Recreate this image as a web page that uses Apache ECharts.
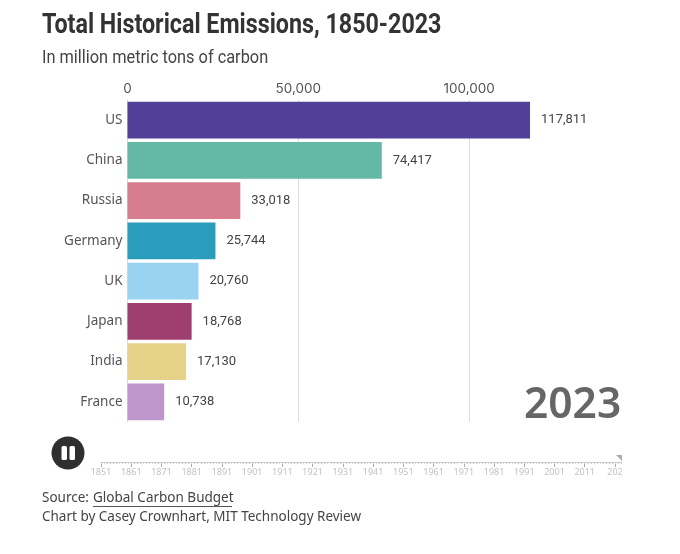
<!DOCTYPE html>
<html><head><meta charset="utf-8">
<style>html,body{margin:0;padding:0;background:#fff}#c{width:680px;height:554px}</style>
<script src="https://cdn.jsdelivr.net/npm/echarts@6/dist/echarts.min.js"></script>
</head><body><div id="c"></div>
<script>
const countries = ["US","China","Russia","Germany","UK","Japan","India","France"];
const emissions = [117811,74417,33018,25744,20760,18768,17130,10738];
const barColors = ["#523F97","#65B8A6","#D67D8E","#2A9DBC","#9AD3F2","#9F3F6F","#E5D288","#BE96CB"];
const years = []; for (let y = 1851; y <= 2023; y++) years.push(String(y));
const currentYear = "2023";
const chartTitle = "Total Historical Emissions, 1850-2023";
const chartSubtitle = "In million metric tons of carbon";
const font = "'Noto Sans'";
const chart = echarts.init(document.getElementById('c'), null, {renderer:'canvas'});
const fmt = v => Number(v).toLocaleString('en-US');
chart.setOption({
  animation:false,
  grid:[
    {left:127.5,top:100,width:410,height:322,containLabel:false},
    {left:101,top:461,width:520,height:1}
  ],
  xAxis:[
    {gridIndex:0,type:'value',position:'top',min:0,max:120000,interval:50000,
     axisLine:{show:false},axisTick:{show:false},
     axisLabel:{show:true,showMaxLabel:false,margin:4,color:'#555',fontFamily:'Inter',fontSize:13.5,formatter:fmt},
     splitLine:{show:true,showMaxLine:false,lineStyle:{color:'#ddd',width:1}}},
    {gridIndex:1,type:'category',data:years,boundaryGap:false,position:'bottom',
     axisLine:{show:true,lineStyle:{color:'#ccc',width:1}},
     axisTick:{show:true,interval:9,length:5,alignWithLabel:true,lineStyle:{color:'#aaa'}},
     axisLabel:{interval:9,margin:6,color:'#c2c2c2',fontFamily:font,fontSize:9,
       formatter:v=>v==='2021'?'202':v},
     splitLine:{show:false}},
    {gridIndex:1,type:'category',data:years,boundaryGap:false,position:'bottom',
     axisLine:{show:false},
     axisTick:{show:true,interval:0,length:2,lineStyle:{color:'#ccc'}},
     axisLabel:{show:false},splitLine:{show:false}}
  ],
  yAxis:[
    {gridIndex:0,type:'category',data:countries,inverse:true,
     axisLine:{show:true,onZero:false,lineStyle:{color:'#ddd'}},axisTick:{show:false},
     axisLabel:{margin:5,color:'#555',fontFamily:font,fontSize:13.5}},
    {gridIndex:1,type:'value',min:0,max:1,show:false}
  ],
  series:[
    {type:'bar',xAxisIndex:0,yAxisIndex:0,barCategoryGap:'9%',
     data:emissions.map((v,i)=>({value:v,itemStyle:{color:barColors[i]}})),
     label:{show:true,position:'right',distance:11,color:'#444',fontFamily:'Roboto',fontSize:13,formatter:p=>fmt(p.value)}},
    {type:'scatter',xAxisIndex:1,yAxisIndex:1,data:[[currentYear,1]],silent:true,
     symbol:'path://M0 0L10 0L10 10Z',symbolSize:[6,6],symbolOffset:[-2,-3],itemStyle:{color:'#999'}}
  ],
  graphic:[
    {type:'text',left:42,top:13,scaleX:0.862,style:{text:chartTitle,fill:'#333',font:"bold 27px Roboto"}},
    {type:'text',left:42,top:49,scaleX:0.86,style:{text:chartSubtitle,fill:'#444',font:"19px Roboto"}},
    {type:'text',left:524,top:384,style:{text:currentYear,fill:'#666',font:"600 42.5px "+font}},
    {type:'circle',shape:{cx:68,cy:453,r:16.5},style:{fill:'#2f2f2f'}},
    {type:'rect',shape:{x:61.5,y:446,width:5.5,height:14,r:1.5},style:{fill:'#fff'}},
    {type:'rect',shape:{x:69.5,y:446,width:5.5,height:14,r:1.5},style:{fill:'#fff'}},
    {type:'text',left:42,top:491,style:{text:"Source: ",fill:'#444',font:"13.5px "+font}},
    {type:'text',left:93,top:491,style:{text:"Global Carbon Budget",fill:'#444',font:"13.5px "+font}},
    {type:'line',shape:{x1:93,y1:506.5,x2:232,y2:506.5},style:{stroke:'#555',lineWidth:1}},
    {type:'text',left:42,top:510,style:{text:"Chart by Casey Crownhart, MIT Technology Review",fill:'#444',font:"13.5px "+font}}
  ]
});
</script></body></html>
